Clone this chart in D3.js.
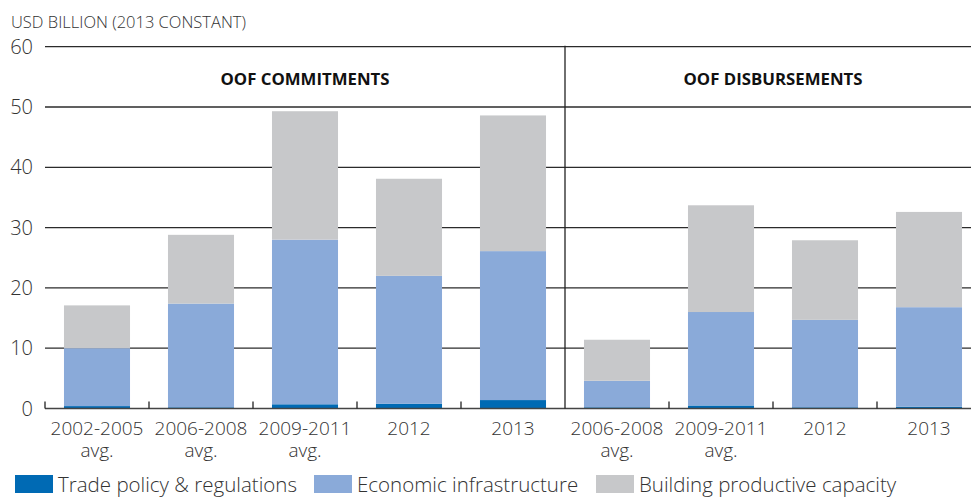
<!DOCTYPE html>
<html><head><meta charset="utf-8">
<script src="https://cdn.jsdelivr.net/npm/d3@7"></script>
<style>
html,body{margin:0;padding:0;background:#fff;}
svg{display:block;font-family:"Open Sans","Noto Sans",sans-serif;}
</style></head>
<body><svg id="c" width="971" height="497"></svg>
<script>
const panels = ["OOF COMMITMENTS", "OOF DISBURSEMENTS"];
const panelOf = ["C","C","C","C","C","D","D","D","D"];
const categories = ["2002-2005 avg.","2006-2008 avg.","2009-2011 avg.","2012","2013","2006-2008 avg.","2009-2011 avg.","2012","2013"];
const tradePolicy = [0.4, 0.2, 0.7, 0.8, 1.4, 0.2, 0.5, 0.2, 0.3];
const economicInfra = [9.6, 17.2, 27.3, 21.2, 24.7, 4.4, 15.5, 14.5, 16.5];
const buildingCapacity = [7.1, 11.4, 21.3, 16.1, 22.5, 6.8, 17.7, 13.2, 15.8];
const seriesNames = ["Trade policy & regulations","Economic infrastructure","Building productive capacity"];
const colors = ["#006ab4","#8aaad9","#c7c8ca"];
const yTicks = [0,10,20,30,40,50,60];
const yTitle = "USD BILLION (2013 CONSTANT)";

const svg = d3.select("#c");
const keys = categories.map((c,i)=>panelOf[i]+"|"+c);
const x = d3.scaleBand().domain(keys).range([45, 981]).paddingInner(0.365).paddingOuter(0.1825);
const y = d3.scaleLinear().domain([0,60]).range([408.5, 46.7]);
const step = x.step();
const x0 = x.range()[0];

// title
svg.append("text").attr("x",11).attr("y",28).attr("font-size",16.5).attr("fill","#333")
  .attr("font-weight",300).text(yTitle);

// gridlines
svg.append("g").selectAll("line").data(yTicks.filter(d=>d>0)).join("line")
  .attr("x1",45).attr("x2",981).attr("y1",d=>y(d)).attr("y2",d=>y(d))
  .attr("stroke","#2b2b2b").attr("stroke-width",1.3);

// y labels
svg.append("g").selectAll("text").data(yTicks).join("text")
  .attr("x",33).attr("y",d=>y(d)+7).attr("text-anchor","end")
  .attr("font-size",20).attr("fill","#333").attr("font-weight",300).text(d=>d);

// bars
const data = categories.map((c,i)=>({key:keys[i], t:tradePolicy[i], e:economicInfra[i], b:buildingCapacity[i]}));
const stack = d3.stack().keys(["t","e","b"])(data);
svg.append("g").selectAll("g").data(stack).join("g").attr("fill",(d,i)=>colors[i])
  .selectAll("rect").data(d=>d).join("rect")
  .attr("x",d=>x(d.data.key)).attr("width",x.bandwidth())
  .attr("y",d=>y(d[1])).attr("height",d=>y(d[0])-y(d[1]));

// baseline
svg.append("line").attr("x1",45).attr("x2",981).attr("y1",y(0)).attr("y2",y(0))
  .attr("stroke","#444").attr("stroke-width",1.6);

// ticks at band boundaries
const bounds = d3.range(0,9).map(i=>x0+i*step);
svg.append("g").selectAll("line").data(bounds.filter((d,i)=>i!==5)).join("line")
  .attr("x1",d=>d).attr("x2",d=>d).attr("y1",y(0)-7).attr("y2",y(0))
  .attr("stroke","#222").attr("stroke-width",1.3);

// divider
svg.append("line").attr("x1",bounds[5]).attr("x2",bounds[5]).attr("y1",y(60)-1).attr("y2",y(0))
  .attr("stroke","#222").attr("stroke-width",1.3);

// panel titles
svg.append("g").selectAll("text").data(panels).join("text")
  .attr("x",(d,i)=>i===0?(x(keys[0])+x(keys[4])+x.bandwidth())/2:(x(keys[5])+x(keys[8])+x.bandwidth())/2)
  .attr("y",85).attr("text-anchor","middle").attr("font-size",16.8).attr("font-weight",700)
  .attr("fill","#111").text(d=>d);

// x labels
const xl = svg.append("g").selectAll("text").data(data).join("text")
  .attr("x",d=>x(d.key)+x.bandwidth()/2).attr("y",435).attr("text-anchor","middle")
  .attr("font-size",19).attr("fill","#333").attr("font-weight",300);
xl.each(function(d){
  const parts = d.key.split("|")[1].split(" ");
  const t = d3.select(this);
  parts.forEach((p,j)=>t.append("tspan").attr("x",x(d.key)+x.bandwidth()/2).attr("dy",j?22:0).text(p));
});

// legend
const legX = [15, 314, 596];
const lg = svg.append("g").selectAll("g").data(seriesNames).join("g")
  .attr("transform",(d,i)=>`translate(${legX[i]},475)`);
lg.append("rect").attr("width",38).attr("height",18).attr("fill",(d,i)=>colors[i]);
lg.append("text").attr("x",43).attr("y",17).attr("font-size",20.5).attr("fill","#333")
  .attr("font-weight",300).text(d=>d);
</script></body></html>
